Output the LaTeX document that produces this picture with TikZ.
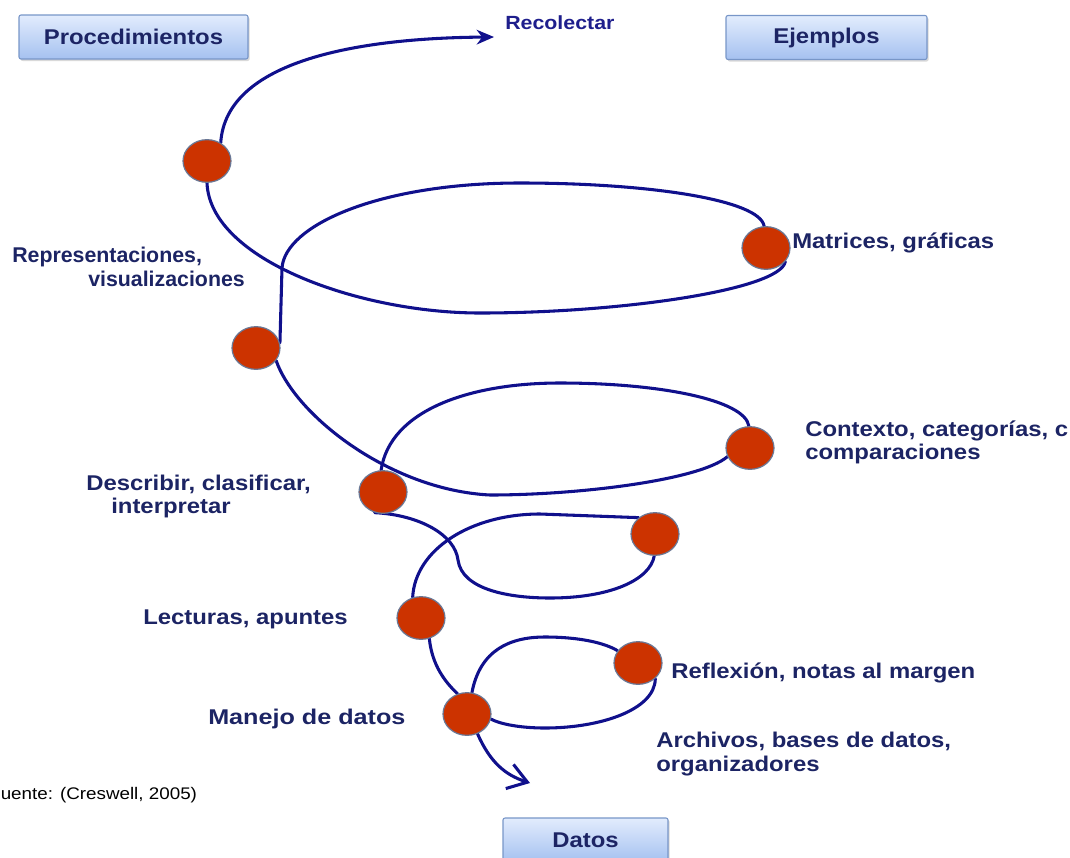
\documentclass[tikz,border=0pt]{standalone}
\usepackage{fontspec}
\setmainfont{Liberation Sans}
\newfontfamily\widesans[FakeStretch=1.12]{Liberation Sans}
\newfontfamily\widersans[FakeStretch=1.18]{Liberation Sans}
\newfontfamily\plainsans{Liberation Sans}
\usetikzlibrary{shapes.geometric,arrows.meta,shadows}
\pgfdeclarelayer{lines}
\pgfsetlayers{lines,main}

\definecolor{spiralblue}{RGB}{16,16,140}
\definecolor{dotfill}{RGB}{204,51,0}
\definecolor{dotrim}{RGB}{105,120,150}
\definecolor{labelblue}{RGB}{28,36,100}
\definecolor{titleblue}{RGB}{30,30,140}
\definecolor{boxtop}{RGB}{226,236,253}
\definecolor{boxbottom}{RGB}{165,193,240}
\definecolor{boxedge}{RGB}{120,150,200}

\begin{document}
\begin{tikzpicture}[x=0.75pt,y=-0.75pt,
  dot/.style={ellipse, draw=dotrim, line width=0.9pt, fill=dotfill,
    minimum width=36pt, minimum height=32pt, inner sep=0pt},
  spiralline/.style={draw=spiralblue, line width=2.3pt, line cap=round},
  lbl/.style={font=\widesans\fontsize{16}{18}\selectfont\bfseries,
    text=labelblue, inner sep=0pt, anchor=base west},
  header/.style={draw=boxedge, line width=0.8pt, rounded corners=1.5pt,
    top color=boxtop, bottom color=boxbottom, minimum height=33pt,
    font=\widesans\fontsize{16}{18}\selectfont\bfseries, text=labelblue,
    drop shadow={shadow xshift=1.2pt, shadow yshift=-1.5pt, opacity=0.3}},
  source/.style={font=\widesans\fontsize{12.6}{14}\selectfont,
    text=black, inner sep=0pt, anchor=base west}
]
\useasboundingbox (0,0) rectangle (1070,857);

% column headers
\node[header, minimum width=171.75pt] (proc) at (133.5,37) {Procedimientos};
\node[header, minimum width=150.75pt] (ejem) at (826.5,37.5) {Ejemplos};
\node[header, minimum width=123.75pt] (datos) at (585.5,840) {Datos};

% stages of the spiral
\node[dot] (c1) at (207,161) {};
\node[dot] (c2) at (766,248) {};
\node[dot] (c3) at (256,348) {};
\node[dot] (c4) at (750,448) {};
\node[dot] (c5) at (383,492) {};
\node[dot] (c6) at (655,534) {};
\node[dot] (c7) at (421,618) {};
\node[dot] (c8) at (638,663) {};
\node[dot] (c9) at (467,714) {};

\coordinate (toptip) at (494,37);
\coordinate (bottomtip) at (530,783);

% spiral segments
\begin{pgfonlayer}{lines}
\draw[spiralline, -{Stealth[length=13pt,width=11pt]}]
  (c1.53) .. controls (226,60) and (360,38) .. (toptip);
\draw[spiralline] (c1.south) .. controls (210,260) and (360,313) .. (480,313)
  .. controls (620,313) and (780,290) .. (c2.-35);
\draw[spiralline] (c2.95) .. controls (760,200) and (650,183) .. (520,183)
  .. controls (380,183) and (285,225) .. (282,268) -- (c3.12);
\draw[spiralline] (c3.-32) .. controls (295,415) and (390,490) .. (490,495)
  .. controls (580,495) and (700,480) .. (c4.-159);
\draw[spiralline] (c5.95) .. controls (390,410) and (470,383) .. (560,383)
  .. controls (660,383) and (745,400) .. (c4.93);
\draw[spiralline] (c5.-112) .. controls (420,515) and (455,535) .. (458,560)
  .. controls (462,590) and (510,598) .. (550,598)
  .. controls (610,598) and (650,580) .. (c6.-92);
\draw[spiralline] (c6.135) -- (540,514) .. controls (470,514) and (415,550) .. (c7.112);
\draw[spiralline] (c7.-68) .. controls (432,665) and (445,682) .. (c9.115);
\draw[spiralline] (c9.77) .. controls (480,650) and (510,637) .. (545,637)
  .. controls (580,637) and (605,643) .. (c8.149);
\draw[spiralline] (c8.-42) .. controls (655,710) and (600,728) .. (545,728)
  .. controls (520,728) and (500,724) .. (c9.-12);
\draw[spiralline, -{Straight Barb[length=14pt,width=19pt,line width=2.3pt]}]
  (c9.-62) .. controls (490,762) and (505,775) .. (bottomtip);
\end{pgfonlayer}

% labels
\node[lbl, font=\widesans\fontsize{14.3}{16}\selectfont\bfseries, text=titleblue]
  (recolectar) at (505,29) {Recolectar};
\node[lbl, font=\plainsans\fontsize{16}{18}\selectfont\bfseries]
  (rep1) at (12,262) {Representaciones,};
\node[lbl, font=\plainsans\fontsize{16}{18}\selectfont\bfseries]
  (rep2) at (88,286) {visualizaciones};
\node[lbl] (mat) at (792,248) {Matrices, gráficas};
\node[lbl] (ctx1) at (805,436) {Contexto, categorías, c};
\node[lbl] (ctx2) at (805,459) {comparaciones};
\node[lbl] (desc1) at (86,490) {Describir, clasificar,};
\node[lbl] (desc2) at (111,513) {interpretar};
\node[lbl] (lect) at (143,624) {Lecturas, apuntes};
\node[lbl, font=\widersans\fontsize{16}{18}\selectfont\bfseries]
  (manejo) at (208,724) {Manejo de datos};
\node[lbl] (refl) at (671,678) {Reflexión, notas al margen};
\node[lbl] (arch1) at (656,747) {Archivos, bases de datos,};
\node[lbl] (arch2) at (656,771) {organizadores};
\node[source] (fuente) at (-11,799) {Fuente: (Creswell, 2005)};
\end{tikzpicture}
\end{document}
